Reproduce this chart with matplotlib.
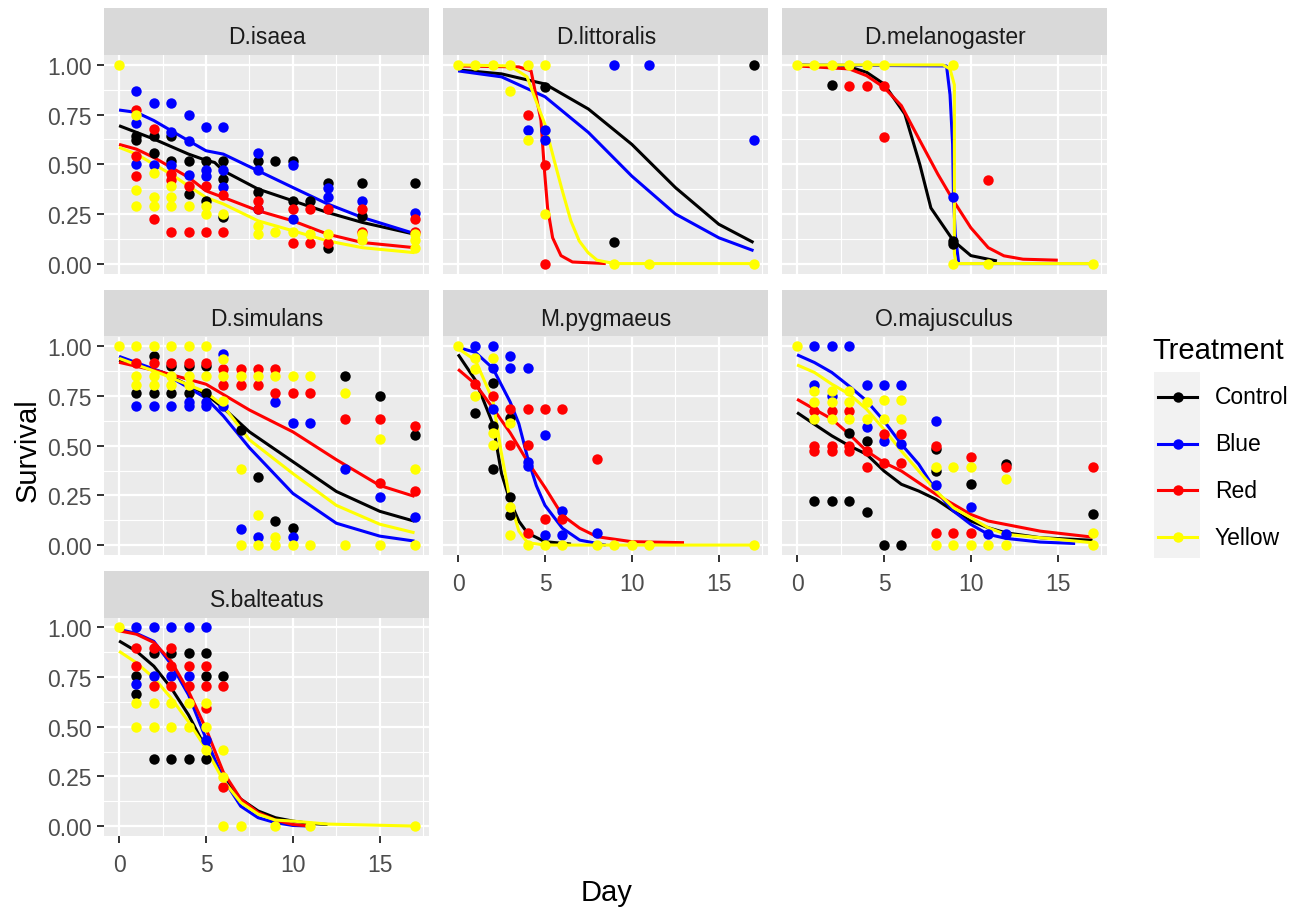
"""
Survival curves by treatment, one panel per species (facet layout)
"""

import matplotlib
matplotlib.use('Agg')
import matplotlib.pyplot as plt
from matplotlib.patches import Rectangle

W, H = 1311, 912
plt.rcParams['font.family'] = ['Liberation Sans', 'DejaVu Sans']

treatments = ['Control', 'Blue', 'Red', 'Yellow']
colours = {'Control': '#000000', 'Blue': '#0000FF', 'Red': '#FF0000', 'Yellow': '#FFFF00'}
species = ['D.isaea', 'D.littoralis', 'D.melanogaster', 'D.simulans',
           'M.pygmaeus', 'O.majusculus', 'S.balteatus']

x_ticks = [0, 5, 10, 15]
y_ticks = [0.0, 0.25, 0.5, 0.75, 1.0]
y_labels = ['0.00', '0.25', '0.50', '0.75', '1.00']

# observed survival (day, survival)
isaea_points = {
    'Control': [(1, .64), (1, .62), (2, .644), (2, .556), (3, .644), (3, .518), (4, .518), (4, .35),
                (5, .518), (5, .316), (6, .518), (6, .425), (6, .232), (8, .518), (8, .358), (9, .518),
                (10, .518), (10, .316), (11, .316), (12, .405), (12, .08), (14, .405), (14, .24), (17, .405)],
    'Blue': [(1, .87), (1, .706), (1, .50), (2, .807), (2, .496), (3, .807), (3, .664), (3, .496),
             (4, .748), (4, .618), (4, .445), (5, .686), (5, .47), (5, .44), (6, .686), (6, .47), (6, .383),
             (8, .556), (8, .47), (8, .274), (10, .496), (10, .224), (12, .38), (12, .333), (14, .316), (17, .257)],
    'Red': [(1, .773), (1, .54), (1, .44), (2, .677), (2, .223), (3, .45), (3, .42), (3, .16), (4, .39),
            (4, .16), (5, .39), (5, .16), (6, .345), (6, .16), (8, .316), (8, .274), (10, .274), (10, .106),
            (11, .274), (11, .106), (12, .274), (12, .106), (14, .274), (14, .16), (17, .224), (17, .16)],
    'Yellow': [(0, 1.0), (1, .748), (1, .37), (1, .29), (2, .454), (2, .333), (2, .29), (3, .39), (3, .333),
               (3, .29), (4, .29), (5, .29), (5, .25), (6, .25), (8, .19), (8, .148), (9, .16), (10, .16),
               (11, .148), (12, .148), (14, .148), (14, .12), (17, .148), (17, .12), (17, .08)],
}
littoralis_points = {
    'Control': [(5, .89), (9, .11), (17, 1.0)],
    'Blue': [(4, .67), (5, .67), (5, .622), (9, 1.0), (11, 1.0), (17, .622)],
    'Red': [(4, .748), (5, .496), (5, 0.0)],
    'Yellow': [(0, 1), (1, 1), (2, 1), (3, 1), (3, .867), (4, 1), (4, .622), (5, 1), (5, .25),
               (9, 0), (11, 0), (17, 0)],
}
melanogaster_points = {
    'Control': [(2, .90), (9, .114), (9, .10)],
    'Blue': [(9, .333)],
    'Red': [(3, .893), (4, .893), (5, .893), (5, .635), (11, .42)],
    'Yellow': [(0, 1), (1, 1), (2, 1), (3, 1), (4, 1), (5, 1), (9, 1), (9, 0), (11, 0), (17, 0)],
}
simulans_points = {
    'Control': [(1, .765), (2, .953), (2, .765), (3, .899), (3, .765), (4, .899), (4, .765), (5, .899),
                (5, .765), (7, .578), (8, .343), (9, .121), (10, .087), (13, .849), (15, .748), (17, .555)],
    'Blue': [(1, .70), (2, .70), (3, .70), (4, .718), (4, .70), (5, .718), (5, .70), (6, .961), (6, .70),
             (7, .079), (8, .04), (9, .718), (10, .04), (10, .617), (11, .617), (13, .385), (15, .242), (17, .141)],
    'Red': [(1, .919), (2, .919), (3, .919), (4, .919), (5, .919), (6, .886), (6, .807), (7, .886), (7, .807),
            (8, .886), (8, .807), (9, .886), (9, .765), (10, .765), (11, .765), (13, .634), (15, .634),
            (15, .314), (17, .597), (17, .272)],
    'Yellow': [(0, 1), (1, 1), (2, 1), (3, 1), (4, 1), (5, 1), (1, .849), (1, .807), (2, .849), (2, .807),
               (3, .849), (3, .807), (4, .849), (4, .807), (5, .849), (6, .939), (6, .849), (6, .726),
               (7, .849), (7, .385), (7, 0), (8, .849), (8, .15), (8, 0), (9, .849), (9, .04), (9, 0),
               (10, .849), (10, 0), (11, .849), (11, 0), (13, .765), (13, 0), (15, .533), (15, 0),
               (17, .385), (17, 0)],
}
pygmaeus_points = {
    'Control': [(1, .666), (2, .818), (2, .60), (2, .385), (3, .64), (3, .24), (3, .152)],
    'Blue': [(1, 1.0), (2, 1.0), (2, .89), (2, .686), (3, .953), (3, .89), (4, .89), (4, .42), (4, .40),
             (5, .556), (5, .05), (6, .17), (6, .05), (8, .059)],
    'Red': [(1, .81), (2, .75), (3, .686), (3, .506), (4, .686), (4, .506), (4, .059), (5, .686), (5, .13),
            (6, .686), (6, .13), (8, .433)],
    'Yellow': [(0, 1), (1, .944), (1, .885), (1, .75), (2, .944), (2, .565), (2, .506), (3, .615), (3, .19),
               (3, .05), (4, 0), (5, 0), (6, 0), (8, 0), (9, 0), (10, 0), (11, 0), (17, 0)],
}
majusculus_points = {
    'Control': [(1, .222), (2, .222), (3, .566), (3, .222), (4, .524), (4, .168), (5, 0), (6, 0),
                (8, .482), (8, .373), (10, .309), (12, .407), (17, .158)],
    'Blue': [(1, 1), (2, 1), (3, 1), (1, .807), (2, .75), (4, .807), (4, .592), (5, .807), (5, .524),
             (6, .807), (6, .508), (8, .625), (8, .301), (10, .192), (11, .054), (12, .054)],
    'Red': [(1, .676), (1, .50), (1, .474), (2, .676), (2, .50), (2, .474), (3, .676), (3, .50), (3, .474),
            (4, .474), (4, .393), (5, .558), (5, .415), (6, .558), (6, .415), (8, .50), (8, .059), (9, .059),
            (10, .445), (10, .059), (12, .393), (17, .393)],
    'Yellow': [(0, 1), (1, .776), (1, .718), (1, .634), (2, .776), (2, .718), (2, .634), (3, .776), (3, .718),
               (3, .634), (4, .718), (4, .634), (5, .729), (5, .634), (6, .729), (6, .634), (8, .393), (8, 0),
               (9, .393), (9, 0), (10, .393), (10, 0), (11, 0), (12, .331), (12, 0), (17, .059), (17, 0)],
}
balteatus_points = {
    'Control': [(1, .758), (1, .666), (2, .873), (2, .339), (3, .873), (3, .339), (4, .873), (4, .339),
                (5, .873), (5, .758), (5, .339), (6, .758)],
    'Blue': [(1, 1), (2, 1), (3, 1), (4, 1), (5, 1), (1, .715), (2, .758), (3, .758), (4, .758), (5, .432)],
    'Red': [(1, .898), (1, .808), (2, .898), (2, .703), (3, .898), (3, .808), (3, .703), (4, .808), (4, .703),
            (5, .808), (5, .703), (5, .593), (6, .703), (6, .195)],
    'Yellow': [(0, 1), (1, .619), (1, .50), (2, .619), (2, .50), (3, .619), (3, .50), (4, .619), (4, .50),
               (5, .619), (5, .50), (5, .381), (6, .381), (6, .246), (6, 0), (7, 0), (9, 0), (11, 0), (17, 0)],
}

# fitted curves (day, survival)
isaea_fits = {
    'Control': [(0, .694), (2, .627), (4, .551), (5, .52), (5.5, .509), (6, .467), (8, .375), (10, .316),
                (12, .257), (14, .207), (17, .148)],
    'Blue': [(0, .773), (1, .761), (2, .72), (3, .669), (4, .618), (5, .568), (6, .551), (8, .467),
             (10, .383), (12, .30), (14, .232), (17, .151)],
    'Red': [(0, .60), (1, .576), (2, .534), (3, .484), (4, .434), (5, .366), (6, .333), (8, .266),
            (10, .215), (12, .148), (14, .106), (17, .08)],
    'Yellow': [(0, .585), (1, .551), (2, .50), (3, .45), (4, .39), (5, .333), (6, .30), (8, .215),
               (10, .165), (12, .114), (14, .08), (17, .055)],
}
littoralis_fits = {
    'Control': [(0, .975), (2.5, .955), (5, .904), (7.5, .778), (10, .60), (12.5, .383), (15, .198), (17, .106)],
    'Blue': [(0, .97), (2.5, .94), (5, .84), (7.5, .66), (10, .44), (12.5, .25), (15, .13), (17, .065)],
    'Red': [(0, .995), (3.5, .99), (4.2, .97), (4.77, .72), (4.96, .48), (5.15, .28), (5.44, .13),
            (5.92, .04), (6.58, .008), (8.5, 0.0)],
    'Yellow': [(0, 1.0), (3, .995), (3.97, .94), (4.48, .82), (5, .70), (5.53, .52), (6, .366), (6.49, .215),
               (6.97, .114), (7.48, .055), (8, .017), (9, 0.0), (17, 0.0)],
}
melanogaster_fits = {
    'Control': [(0, 1.0), (3, .99), (4, .963), (5, .904), (6.2, .753), (7.06, .50), (7.7, .28), (9, .114),
                (10, .04), (11.5, .013)],
    'Blue': [(0, 1.0), (8.6, .995), (8.8, .85), (8.95, .6), (9.0, .333), (9.1, .15), (9.3, 0.0), (17, 0.0)],
    'Red': [(0, .995), (3, .98), (4, .946), (5, .887), (6, .795), (7.06, .62), (8.1, .45), (9, .316),
            (10, .18), (11, .08), (11.9, .039), (13, .022), (15, .017)],
    'Yellow': [(0, 1.0), (8.4, 1.0), (8.8, .98), (9.05, .9), (9.05, .05), (9.15, 0.0), (17, 0.0)],
}
simulans_fits = {
    'Control': [(0, .93), (2.5, .87), (5, .76), (6, .69), (7.5, .57), (10, .42), (12.5, .27), (15, .17), (17, .12)],
    'Blue': [(0, .95), (2.5, .87), (5, .74), (6, .65), (7.5, .49), (10, .26), (12.5, .11), (15, .045), (17, .02)],
    'Red': [(0, .92), (2.5, .87), (5, .81), (7.5, .68), (10, .57), (12.5, .43), (15, .30), (17, .245)],
    'Yellow': [(0, .94), (2.5, .86), (5, .77), (6, .70), (7.5, .53), (10, .36), (12.5, .20), (15, .105), (17, .062)],
}
pygmaeus_fits = {
    'Control': [(0, .96), (1, .83), (1.5, .72), (2, .61), (2.5, .36), (3, .22), (3.5, .12), (4, .06),
                (5, .017), (6.5, .005)],
    'Blue': [(0, .995), (1, .97), (2, .89), (3, .72), (3.5, .61), (4, .44), (4.5, .30), (5, .20), (6, .085),
             (7, .025), (8, .008), (8.5, 0.0)],
    'Red': [(0, .885), (1, .81), (2, .69), (3, .565), (4, .42), (5, .29), (6, .15), (7, .085), (8, .042),
            (10, .017), (13, .012)],
    'Yellow': [(0, .99), (1, .93), (2, .73), (2.5, .46), (3, .22), (3.5, .07), (4, .012), (5, 0.0), (17, 0.0)],
}
majusculus_fits = {
    'Control': [(0, .667), (1, .608), (2, .55), (3, .50), (4, .457), (5, .373), (6, .306), (7, .272), (8, .23),
                (9, .171), (10, .121), (11, .087), (12, .062), (14, .037), (17, .024)],
    'Blue': [(0, .958), (1, .919), (2, .869), (3, .80), (4, .726), (5, .625), (6, .508), (7, .407), (8, .272),
             (9, .171), (10, .104), (11, .054), (12, .034), (14, .015), (16, .008)],
    'Red': [(0, .734), (1, .684), (2, .634), (3, .558), (4, .474), (5, .415), (6, .373), (7, .314), (8, .255),
            (9, .205), (10, .154), (11, .121), (12, .104), (14, .07), (17, .04)],
    'Yellow': [(0, .907), (1, .869), (2, .81), (3, .76), (4, .684), (5, .583), (6, .474), (7, .373), (8, .272),
               (9, .188), (10, .138), (11, .087), (12, .054), (14, .037), (17, .012)],
}
balteatus_fits = {
    'Control': [(0, .932), (1, .88), (2, .805), (3, .695), (4, .559), (4.8, .424), (5.5, .32), (6, .245),
                (7, .136), (8, .076), (9, .042), (10, .025), (11, .013), (12, .008)],
    'Blue': [(0, .99), (1, .97), (2, .93), (3, .814), (4, .66), (5, .44), (6, .237), (7, .10), (8, .042),
             (9, .017), (10, .003), (11, 0.0)],
    'Red': [(0, .983), (1, .966), (2, .924), (3, .83), (4, .678), (5, .49), (6, .271), (7, .136), (8, .068),
            (9, .03), (10, .008), (11, 0.0)],
    'Yellow': [(0, .88), (1, .822), (2, .746), (3, .644), (4, .525), (5, .39), (6, .229), (7, .119), (8, .06),
               (9, .03), (10, .025), (12, .01), (17, 0.0)],
}

panel_points = [isaea_points, littoralis_points, melanogaster_points, simulans_points,
                pygmaeus_points, majusculus_points, balteatus_points]
panel_fits = [isaea_fits, littoralis_fits, melanogaster_fits, simulans_fits,
              pygmaeus_fits, majusculus_fits, balteatus_fits]


def px_rect(left, top, w, h):
    return [left / W, 1 - (top + h) / H, w / W, h / H]


fig = plt.figure(figsize=(W / 100, H / 100), dpi=100)

col_left = [104.3, 443.3, 782.3]
row_top = [56.0, 337.5, 618.5]
pw, ph, sh = 325.0, 218.5, 46.7

for i, name in enumerate(species):
    row, col = i // 3, i % 3

    # strip
    sax = fig.add_axes(px_rect(col_left[col], row_top[row] - sh, pw, sh))
    sax.set_facecolor('#D9D9D9')
    sax.set_xticks([]); sax.set_yticks([])
    for s in sax.spines.values():
        s.set_visible(False)
    sax.text(0.5, 0.25, name, ha='center', va='baseline', fontsize=16.5, color='#1A1A1A',
             transform=sax.transAxes)

    ax = fig.add_axes(px_rect(col_left[col], row_top[row], pw, ph))
    ax.set_facecolor('#EBEBEB')
    for s in ax.spines.values():
        s.set_visible(False)
    ax.set_xlim(-0.85, 17.85)
    ax.set_ylim(-0.05, 1.05)
    ax.set_xticks(x_ticks)
    ax.set_xticks([2.5, 7.5, 12.5, 17.5], minor=True)
    ax.set_yticks(y_ticks)
    ax.set_yticks([0.125, 0.375, 0.625, 0.875], minor=True)
    ax.grid(which='major', color='white', lw=1.6)
    ax.grid(which='minor', color='white', lw=0.8)
    ax.set_axisbelow(True)
    ax.tick_params(which='minor', length=0)
    ax.tick_params(which='major', length=5, width=1.4, color='#333333',
                   labelsize=16.5, labelcolor='#4D4D4D', pad=4)
    ax.tick_params(axis='x', which='major', pad=7)

    show_y = col == 0
    show_x = (row == 2) or (row == 1 and col > 0)
    if show_y:
        ax.set_yticklabels(y_labels)
    else:
        ax.tick_params(axis='y', left=False, labelleft=False)
    if show_x:
        ax.set_xticklabels([str(t) for t in x_ticks])
    else:
        ax.tick_params(axis='x', bottom=False, labelbottom=False)

    fits = panel_fits[i]
    for t in treatments:
        xs = [p[0] for p in fits[t]]
        ys = [p[1] for p in fits[t]]
        ax.plot(xs, ys, color=colours[t], lw=2.2, zorder=3, solid_capstyle='butt')
    pts = panel_points[i]
    for t in treatments:
        xs = [p[0] for p in pts[t]]
        ys = [p[1] for p in pts[t]]
        ax.plot(xs, ys, 'o', color=colours[t], ms=7.5, mec='none', zorder=4, clip_on=False)

# axis titles
fig.text(607 / W, 1 - 893 / H, 'Day', ha='center', va='center', fontsize=21, color='black')
fig.text(28 / W, 1 - 450 / H, 'Survival', ha='center', va='center', rotation=90, fontsize=21, color='black')

# legend
lax = fig.add_axes([0, 0, 1, 1])
lax.set_xlim(0, W)
lax.set_ylim(H, 0)
lax.axis('off')
lax.text(1152, 351, 'Treatment', ha='left', va='center', fontsize=21, color='black')
lax.add_patch(Rectangle((1154, 373), 46, 186, facecolor='#F2F2F2', edgecolor='none'))
for k, t in enumerate(treatments):
    yk = 398 + k * 46.7
    lax.plot([1158, 1197], [yk, yk], color=colours[t], lw=2.2)
    lax.plot([1177.5], [yk], 'o', color=colours[t], ms=7.5, mec='none')
    lax.text(1215, yk, t, ha='left', va='center', fontsize=16.5, color='black')

fig.savefig('out.png', dpi=100)
